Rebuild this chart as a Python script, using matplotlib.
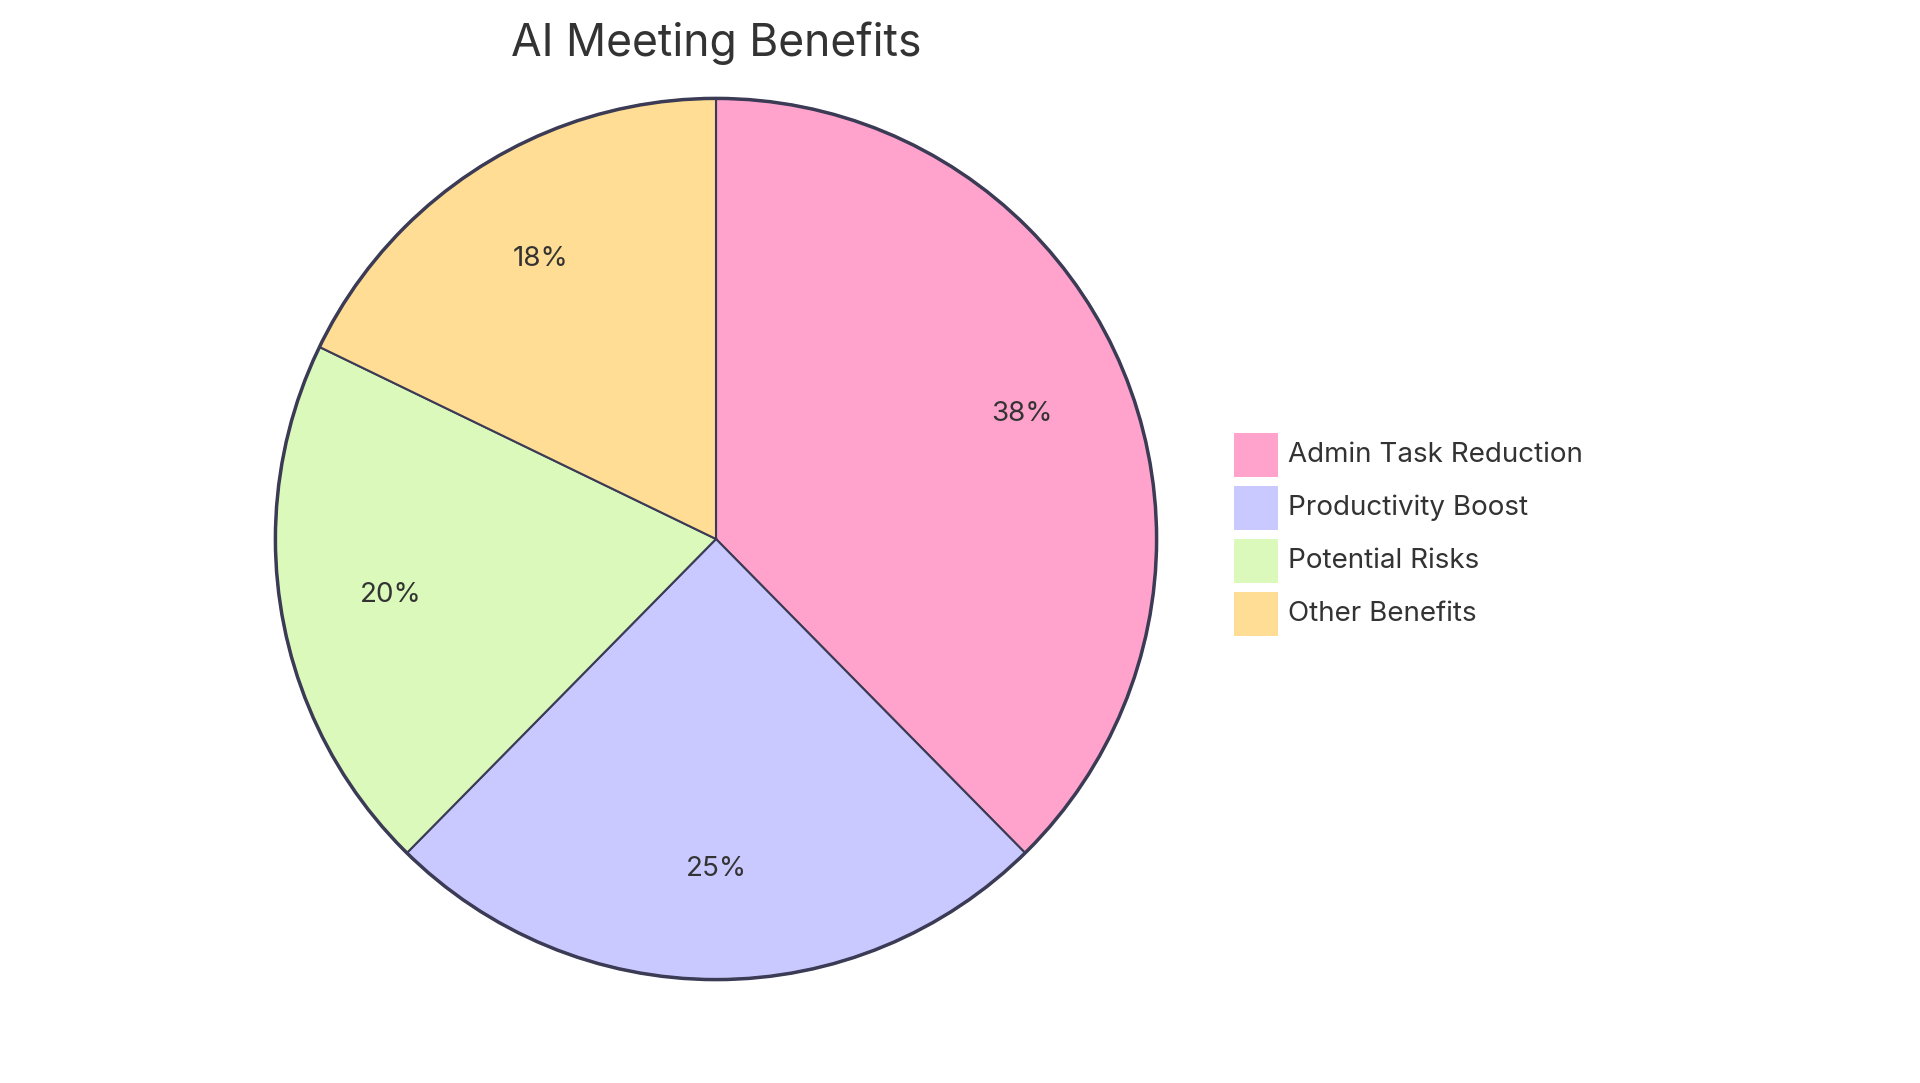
import matplotlib.pyplot as plt
from matplotlib.patches import Rectangle

labels = ["Admin Task Reduction", "Productivity Boost", "Potential Risks", "Other Benefits"]
values = [38, 25, 20, 18]
colors = ["#FFA3CD", "#C9C9FF", "#DBF9BB", "#FFDD94"]

plt.rcParams['font.family'] = ['Inter', 'DejaVu Sans']
W, H = 1920, 1083
fig = plt.figure(figsize=(W / 100, H / 100), dpi=100)

cx, cy, r = 716, 539, 445
ax = fig.add_axes([(cx - r) / W, (H - cy - r) / H, 2 * r / W, 2 * r / H])
wedges, texts, autotexts = ax.pie(
    values, colors=colors, startangle=90, counterclock=False,
    autopct=lambda p: f"{p:.0f}%", pctdistance=0.75,
    wedgeprops=dict(edgecolor="#3b3b55", linewidth=1.5),
    textprops=dict(fontsize=20, color="#333333"))
ax.add_patch(plt.Circle((0, 0), 1, fill=False, edgecolor="#3b3b55", linewidth=2.5))
ax.set_xlim(-1.01, 1.01)
ax.set_ylim(-1.01, 1.01)
ax.set_aspect("equal")
ax.axis("off")

fig.text(cx / W, 1 - 43 / H, "AI Meeting Benefits", ha="center", va="center",
         fontsize=32, color="#333333")

# legend
for i, (lab, col) in enumerate(zip(labels, colors)):
    y = 455 + i * 53
    fig.patches.append(Rectangle((1234 / W, 1 - (y + 22) / H), 44 / W, 44 / H,
                                 transform=fig.transFigure, facecolor=col,
                                 edgecolor="none"))
    fig.text(1288 / W, 1 - y / H, lab, ha="left", va="center",
             fontsize=20, color="#333333")

fig.savefig("out.png", dpi=100)
